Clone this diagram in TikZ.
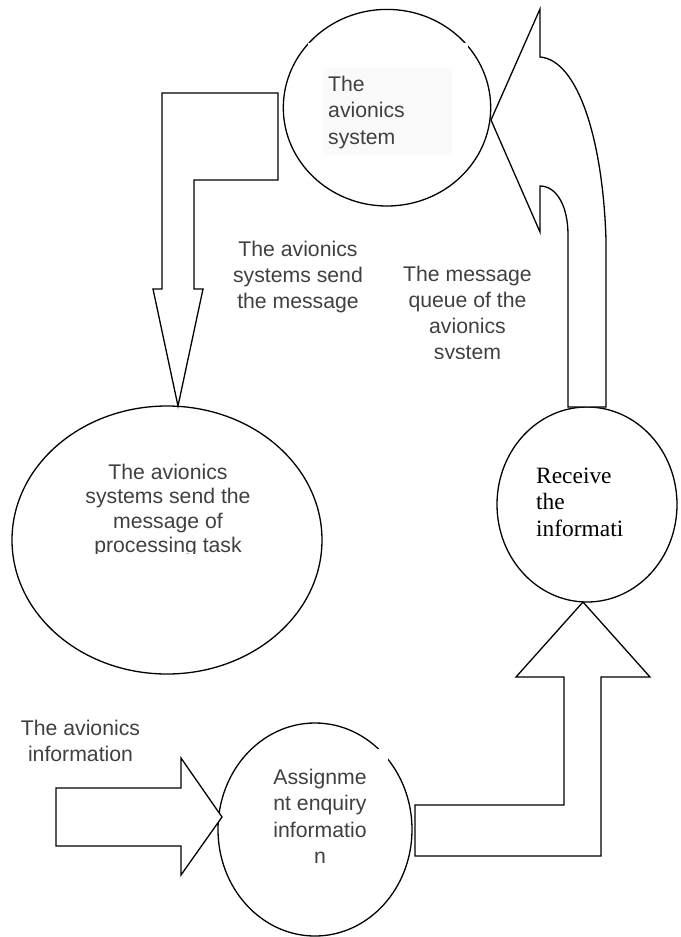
\documentclass[tikz,border=0pt]{standalone}
\usepackage{fontspec}
\newfontfamily\arialf{Liberation Sans}
\newfontfamily\timesf{Liberation Serif}
\usetikzlibrary{shapes.geometric}
\definecolor{labelgray}{RGB}{64,64,64}
\newcommand\mlines[2]{\begin{tabular}[t]{@{}#1@{}}#2\end{tabular}}
\newcommand\sansat[1]{\arialf\fontsize{21.3}{#1}\selectfont}
\tikzset{
  outline/.style={draw=black, line width=1.3bp, line join=miter},
  bubble/.style={ellipse, outline, inner sep=0pt},
  blockarrow/.style={outline, fill=white},
  lbl/.style={inner sep=0pt, anchor=base, text=labelgray},
}
\begin{document}
\begin{tikzpicture}[x=1bp,y=-1bp]
\useasboundingbox (0,0) rectangle (681,937);

% bubbles
\node[bubble, minimum width=207.4bp, minimum height=196.6bp] (sys) at (387,107.7) {};
\node[bubble, minimum width=180bp, minimum height=195bp] (recv) at (587,504.5) {};
\node[bubble, minimum width=310bp, minimum height=268bp] (proc) at (167,540) {};
\node[bubble, minimum width=194bp, minimum height=213bp] (assign) at (315,829.5) {};

% text boxes covering parts of outlines
\fill[white] (308,43) rectangle (468,60);
\fill[black!2] (323,68) rectangle (452,155);
\fill[white] (255,749) rectangle (388,890);

% block arrow: avionics system -> processing task
\draw[blockarrow] (278,93) -- (162,93) -- (162,289) -- (153,289) -- (178,406)
  -- (203,289) -- (194,289) -- (194,180) -- (278,180) -- cycle;

% block arrow: avionics information -> assignment
\draw[blockarrow] (56,788) -- (181,788) -- (181,758) -- (222,817)
  -- (181,875) -- (181,846) -- (56,846) -- cycle;

% bent block arrow: assignment -> receive
\draw[blockarrow] (415,805) -- (564,805) -- (564,677) -- (516,677) -- (583,602)
  -- (650,677) -- (601,677) -- (601,856) -- (415,856) -- cycle;

% curved block arrow: receive -> avionics system
\draw[blockarrow] (568,407) -- (568,235) .. controls (568,205) and (556,186) .. (540,186)
  -- (540,232) -- (491,120) -- (540,9) -- (540,57)
  .. controls (578,60) and (603,140) .. (606,240) -- (606,407) -- cycle;

% texts
\node[lbl, font={\sansat{26.5}}, anchor=base west] (systxt) at (328,91.5)
  {\mlines{l}{The\\avionics\\system}};
\node[lbl, font={\sansat{26.2}}] (sendlbl) at (298,256.7)
  {\mlines{c}{The avionics\\systems send\\the message}};
\begin{scope}
  \clip (0,0) rectangle (681,358.5);
  \node[lbl, font={\sansat{26.4}}] (queuelbl) at (467.5,281)
    {\mlines{c}{The message\\queue of the\\avionics\\system}};
\end{scope}
\begin{scope}
  \clip (0,0) rectangle (681,553);
  \node[lbl, font={\sansat{24.5}}] (proctxt) at (168,479.3)
    {\mlines{c}{The avionics\\systems send the\\message of\\processing task}};
\end{scope}
\node[lbl, font={\timesf\fontsize{23.5}{27}\selectfont}, text=black, anchor=base west] (recvtxt) at (536,483)
  {\mlines{l}{Receive\\the\\informati}};
\node[lbl, font={\sansat{26.2}}] (infolbl) at (80.5,735)
  {\mlines{c}{The avionics\\information}};
\node[lbl, font={\sansat{26.4}}] (assigntxt) at (320,784.5)
  {\mlines{c}{Assignme\\nt enquiry\\informatio\\n}};
\end{tikzpicture}
\end{document}
